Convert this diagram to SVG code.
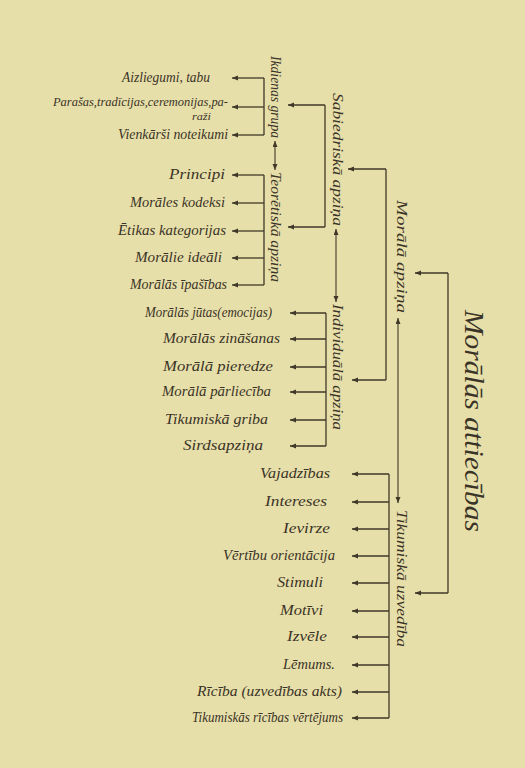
<svg xmlns="http://www.w3.org/2000/svg" width="525" height="768" viewBox="0 0 525 768">
<defs>
<marker id="ah" markerWidth="7" markerHeight="6" refX="6" refY="2.5" orient="auto-start-reverse" markerUnits="userSpaceOnUse">
<path d="M0,0 L6,2.5 L0,5 z" fill="#403828"/>
</marker>
<style>
.lbl{font-family:"Liberation Serif","DejaVu Serif",serif;font-style:italic;font-size:14px;fill:#3a3327}
.vl{font-family:"Liberation Serif","DejaVu Serif",serif;font-style:italic;font-size:14px;fill:#3a3327}
.big{font-family:"Liberation Serif","DejaVu Serif",serif;font-style:italic;font-size:27px;fill:#3a3327}
.c{stroke:#403828;stroke-width:1.3;fill:none}
.a{stroke:#403828;stroke-width:1.3;fill:none;marker-end:url(#ah)}
.d{stroke:#403828;stroke-width:1.1;fill:none;marker-end:url(#ah);marker-start:url(#ah)}
</style>
</defs>
<rect width="525" height="768" fill="#e7dfa9"/>

<g id="connectors">
<path class="c" d="M264,78 V135"/>
<path class="a" d="M264,78 H232"/>
<path class="a" d="M264,107 H232"/>
<path class="a" d="M264,135 H232"/>
<path class="c" d="M264,175 V285"/>
<path class="a" d="M264,175 H232"/>
<path class="a" d="M264,203 H232"/>
<path class="a" d="M264,231 H232"/>
<path class="a" d="M264,258 H232"/>
<path class="a" d="M264,285 H232"/>
<path class="d" d="M275,141 V170"/>
<path class="c" d="M325,105 V227"/>
<path class="a" d="M325,105 H288"/>
<path class="a" d="M325,227 H288"/>
<path class="d" d="M336,229 V302"/>
<path class="c" d="M326,313 V446"/>
<path class="a" d="M326,313 H290"/>
<path class="a" d="M326,339 H290"/>
<path class="a" d="M326,367 H290"/>
<path class="a" d="M326,392 H290"/>
<path class="a" d="M326,420 H290"/>
<path class="a" d="M326,446 H290"/>
<path class="c" d="M386,169 V380"/>
<path class="a" d="M386,169 H348"/>
<path class="a" d="M386,380 H352"/>
<path class="d" d="M398,318 V503"/>
<path class="c" d="M389,474 V718"/>
<path class="a" d="M389,474 H352"/>
<path class="a" d="M389,502 H352"/>
<path class="a" d="M389,529 H352"/>
<path class="a" d="M389,556 H352"/>
<path class="a" d="M389,583 H352"/>
<path class="a" d="M389,611 H352"/>
<path class="a" d="M389,637 H352"/>
<path class="a" d="M389,665 H352"/>
<path class="a" d="M389,692 H352"/>
<path class="a" d="M389,718 H352"/>
<path class="c" d="M448,273 V593"/>
<path class="a" d="M448,273 H415"/>
<path class="a" d="M448,593 H415"/>
</g>

<g id="moralas-attiecibas"><text class="big" transform="translate(465,310) rotate(90)" textLength="222" lengthAdjust="spacingAndGlyphs">Morālās attiecības</text></g>
<g id="morala-apzina"><text class="vl" transform="translate(397,200) rotate(90)" textLength="113" lengthAdjust="spacingAndGlyphs">Morālā apziņa</text></g>
<g id="tikumiska-uzvediba"><text class="vl" transform="translate(397,510) rotate(90)" textLength="137" lengthAdjust="spacingAndGlyphs">Tikumiskā uzvedība</text></g>
<g id="sabiedriska-apzina"><text class="vl" transform="translate(333,93) rotate(90)" textLength="133" lengthAdjust="spacingAndGlyphs">Sabiedriskā apziņa</text></g>
<g id="individuala-apzina"><text class="vl" transform="translate(333,304) rotate(90)" textLength="126" lengthAdjust="spacingAndGlyphs">Individuālā apziņa</text></g>
<g id="ikdienas-grupa"><text class="vl" transform="translate(271,56) rotate(90)" textLength="82" lengthAdjust="spacingAndGlyphs">Ikdienas grupa</text></g>
<g id="teoretiska-apzina"><text class="vl" transform="translate(271,172) rotate(90)" textLength="110" lengthAdjust="spacingAndGlyphs">Teorētiskā apziņa</text></g>

<g id="aizliegumi"><text class="lbl" x="122" y="82" textLength="88" lengthAdjust="spacingAndGlyphs">Aizliegumi, tabu</text></g>
<g id="parasas"><text class="lbl" x="53" y="106" style="font-size:12px" textLength="175" lengthAdjust="spacingAndGlyphs">Parašas,tradīcijas,ceremonijas,pa-</text><text class="lbl" x="192" y="120" style="font-size:10px" textLength="19" lengthAdjust="spacingAndGlyphs">raži</text></g>
<g id="vienkarsi"><text class="lbl" x="118" y="139" textLength="110" lengthAdjust="spacingAndGlyphs">Vienkārši noteikumi</text></g>

<g id="principi"><text class="lbl" x="169" y="179" textLength="56" lengthAdjust="spacingAndGlyphs">Principi</text></g>
<g id="kodeksi"><text class="lbl" x="130" y="207" textLength="95" lengthAdjust="spacingAndGlyphs">Morāles kodeksi</text></g>
<g id="kategorijas"><text class="lbl" x="118" y="235" textLength="108" lengthAdjust="spacingAndGlyphs">Ētikas kategorijas</text></g>
<g id="ideali"><text class="lbl" x="135" y="262" textLength="87" lengthAdjust="spacingAndGlyphs">Morālie ideāli</text></g>
<g id="ipasibas"><text class="lbl" x="130" y="289" textLength="97" lengthAdjust="spacingAndGlyphs">Morālās īpašības</text></g>

<g id="jutas"><text class="lbl" x="145" y="317" textLength="127" lengthAdjust="spacingAndGlyphs">Morālās jūtas(emocijas)</text></g>
<g id="zinasanas"><text class="lbl" x="163" y="343" textLength="117" lengthAdjust="spacingAndGlyphs">Morālās zināšanas</text></g>
<g id="pieredze"><text class="lbl" x="163" y="371" textLength="110" lengthAdjust="spacingAndGlyphs">Morālā pieredze</text></g>
<g id="parlieciba"><text class="lbl" x="162" y="396" textLength="109" lengthAdjust="spacingAndGlyphs">Morālā pārliecība</text></g>
<g id="griba"><text class="lbl" x="165" y="424" textLength="103" lengthAdjust="spacingAndGlyphs">Tikumiskā griba</text></g>
<g id="sirdsapzina"><text class="lbl" x="183" y="450" textLength="80" lengthAdjust="spacingAndGlyphs">Sirdsapziņa</text></g>

<g id="vajadzibas"><text class="lbl" x="260" y="478" textLength="70" lengthAdjust="spacingAndGlyphs">Vajadzības</text></g>
<g id="intereses"><text class="lbl" x="265" y="506" textLength="62" lengthAdjust="spacingAndGlyphs">Intereses</text></g>
<g id="ievirze"><text class="lbl" x="283" y="533" textLength="47" lengthAdjust="spacingAndGlyphs">Ievirze</text></g>
<g id="orientacija"><text class="lbl" x="223" y="560" textLength="112" lengthAdjust="spacingAndGlyphs">Vērtību orientācija</text></g>
<g id="stimuli"><text class="lbl" x="277" y="587" textLength="46" lengthAdjust="spacingAndGlyphs">Stimuli</text></g>
<g id="motivi"><text class="lbl" x="280" y="615" textLength="43" lengthAdjust="spacingAndGlyphs">Motīvi</text></g>
<g id="izvele"><text class="lbl" x="287" y="641" textLength="40" lengthAdjust="spacingAndGlyphs">Izvēle</text></g>
<g id="lemums"><text class="lbl" x="283" y="669" textLength="52" lengthAdjust="spacingAndGlyphs">Lēmums.</text></g>
<g id="riciba"><text class="lbl" x="197" y="696" textLength="145" lengthAdjust="spacingAndGlyphs">Rīcība (uzvedības akts)</text></g>
<g id="vertejums"><text class="lbl" x="192" y="722" textLength="151" lengthAdjust="spacingAndGlyphs">Tikumiskās rīcības vērtējums</text></g>
</svg>
